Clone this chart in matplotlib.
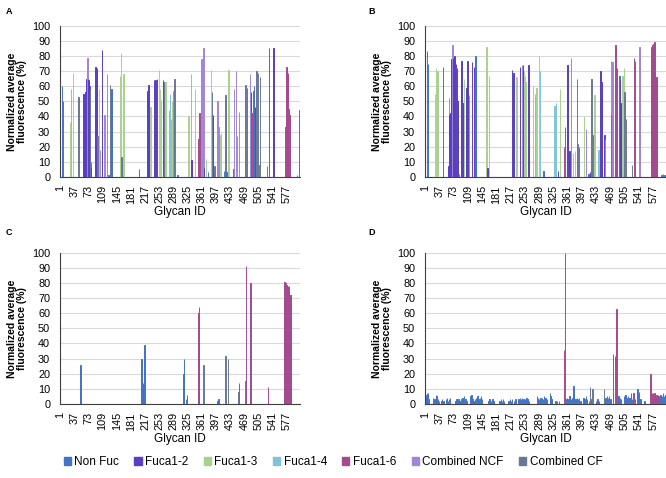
import matplotlib
matplotlib.use("Agg")
import matplotlib.pyplot as plt
from matplotlib.patches import Patch

plt.rcParams['font.family'] = ['Liberation Sans', 'DejaVu Sans']

N_GLYCANS = 609
CATEGORIES = ["Non Fuc", "Fuca1-2", "Fuca1-3", "Fuca1-4", "Fuca1-6", "Combined NCF", "Combined CF"]
CAT_CODES = ["N", "2", "3", "4", "6", "X", "C"]
COLORS = ["#4472C4", "#5A3FC0", "#A9D18E", "#7FC4D6", "#A34B8E", "#9F86DA", "#6A7896"]
TICK_LABELS = ["1", "37", "73", "109", "145", "181", "217", "253", "289", "325",
               "361", "397", "433", "469", "505", "541", "577"]

# ---------------- Panel A ----------------
A_IDS = [6, 9, 26, 29, 33, 48, 60, 62, 64, 65, 66, 67, 68, 69, 70, 71, 72, 73, 74, 75, 76, 77, 79, 80,
         91, 94, 95, 96, 99, 103, 108, 114, 120, 124, 128, 131, 153, 155, 157, 162, 201,
         223, 225, 231, 240, 242, 243, 247, 252, 255, 257, 263, 266, 269, 277, 280, 283, 285, 289, 291, 299,
         327, 333, 335, 344, 352, 355, 360, 362, 363, 365, 367, 372, 376, 384, 386, 390, 393,
         401, 403, 408, 410, 417, 421, 424, 427, 429, 441, 443, 448, 451, 456, 472, 475,
         483, 486, 487, 492, 494, 496, 500, 503, 505, 508, 526, 531, 532, 543,
         573, 574, 575, 576, 577, 578, 579, 580, 581, 582, 583, 584, 585, 602, 609]
A_VALUES = [60, 50, 36, 58, 69, 53, 55, 25, 50, 56, 58, 60, 65, 73, 70, 79, 65, 64, 63, 62, 60, 58, 10, 6,
            73, 72, 71, 27, 58, 18, 84, 41, 68, 1, 61, 58, 67, 82, 13, 68, 5,
            57, 61, 46, 64, 62, 64, 65, 71, 58, 51, 64, 63, 63, 44, 55, 38, 50, 57, 65, 1,
            40, 68, 11, 58, 25, 42, 78, 11, 27, 85, 6, 12, 3, 71, 56, 41, 7,
            50, 33, 28, 29, 4, 54, 3, 43, 71, 5, 58, 70, 27, 43, 61, 59,
            68, 56, 42, 57, 60, 46, 70, 69, 8, 66, 7, 77, 85, 85,
            33, 70, 71, 73, 72, 64, 68, 69, 45, 44, 43, 41, 40, 1, 44]
A_CATS = ["N", "N", "3", "4", "3", "C", "2", "2", "2", "2", "2", "2", "2", "2", "X", "X", "2", "2", "2", "2", "2", "C", "C", "2",
          "2", "2", "2", "C", "3", "X", "2", "X", "X", "N", "C", "N", "3", "3", "C", "3", "N",
          "2", "2", "3", "2", "4", "2", "2", "3", "3", "3", "2", "C", "3", "4", "4", "4", "3", "X", "C", "N",
          "3", "4", "2", "3", "6", "6", "X", "2", "X", "X", "2", "3", "N", "3", "C", "2", "C",
          "X", "X", "3", "3", "N", "C", "N", "C", "3", "N", "X", "X", "X", "X", "C", "C",
          "X", "2", "6", "N", "N", "2", "C", "C", "C", "C", "C", "6", "6", "2",
          "6", "6", "6", "6", "6", "6", "6", "6", "6", "6", "6", "6", "6", "N", "N"]

# ---------------- Panel B ----------------
B_IDS = [6, 8, 26, 29, 32, 34, 46, 60, 62, 63, 65, 66, 68, 70, 71, 73, 75, 76, 79, 82, 83, 86,
         91, 93, 95, 100, 104, 106, 108, 112, 120, 124, 128, 130, 155, 156, 159, 163,
         221, 224, 232, 241, 245, 248, 251, 253, 255, 262, 274, 278, 280, 282, 289, 291, 300,
         328, 331, 336, 342, 352, 354, 361, 364, 366, 370, 375, 379, 384, 386, 389,
         402, 408, 414, 417, 421, 426, 429, 439, 444, 447, 448, 454, 456, 471, 472, 474,
         482, 485, 486, 492, 494, 497, 500, 503, 505, 508, 524, 528, 531, 543,
         571, 572, 573, 574, 575, 576, 577, 578, 579, 580, 581, 582, 583, 584, 585, 586, 587,
         598, 602, 606, 609]
B_VALUES = [83, 75, 55, 72, 70, 69, 73, 7, 52, 41, 42, 52, 78, 87, 79, 77, 80, 77, 75, 72, 50, 2,
            65, 77, 49, 65, 31, 59, 77, 54, 76, 73, 80, 68, 65, 86, 6, 67,
            71, 69, 66, 73, 74, 74, 70, 67, 63, 74, 60, 55, 53, 59, 80, 70, 4,
            47, 49, 4, 58, 20, 33, 74, 16, 17, 79, 16, 17, 65, 22, 20,
            40, 32, 2, 3, 65, 28, 54, 18, 70, 63, 5, 28, 25, 77, 41, 76,
            87, 16, 72, 67, 64, 49, 67, 72, 56, 38, 8, 79, 77, 86,
            44, 85, 86, 86, 87, 87, 88, 88, 89, 89, 70, 64, 60, 57, 57, 66, 66,
            1, 2, 1, 77]
B_CATS = ["N", "N", "3", "3", "3", "3", "N", "2", "X", "2", "2", "2", "2", "X", "2", "2", "2", "2", "2", "2", "2", "N",
          "2", "2", "2", "3", "2", "2", "2", "X", "2", "2", "N", "N", "3", "3", "2", "3",
          "2", "2", "3", "2", "X", "2", "3", "3", "3", "2", "3", "4", "4", "3", "3", "4", "N",
          "4", "4", "2", "3", "6", "6", "2", "2", "2", "X", "3", "3", "C", "C", "C",
          "3", "X", "N", "2", "C", "C", "3", "4", "2", "2", "2", "2", "X", "X", "C", "X",
          "6", "6", "6", "N", "2", "2", "3", "3", "C", "C", "C", "6", "6", "X",
          "6", "6", "6", "6", "6", "6", "6", "6", "6", "6", "6", "6", "6", "6", "6", "6", "6",
          "N", "N", "N", "4"]

# ---------------- Panel C ----------------
C_IDS = [51, 53, 208, 211, 212, 215, 314, 315, 321, 323, 352, 354, 365, 399, 401, 403,
         421, 427, 454, 456, 472, 473, 483, 485, 529,
         569, 570, 571, 572, 573, 574, 575, 576, 577, 578, 579, 580, 581, 582, 583, 584, 585, 586, 587, 588]
C_VALUES = [5, 26, 30, 12, 14, 39, 20, 30, 3, 6, 60, 64, 26, 2, 2, 3,
            32, 30, 8, 14, 15, 91, 77, 80, 11,
            62, 70, 81, 80, 80, 77, 78, 79, 78, 77, 77, 78, 76, 78, 72, 72, 72, 72, 72, 72]
C_CATS = ["N", "N", "N", "N", "N", "N", "N", "N", "N", "N", "6", "6", "C", "C", "N", "N",
          "C", "C", "C", "N", "C", "6", "6", "6", "6",
          "6", "6", "6", "6", "6", "6", "6", "6", "6", "6", "6", "6", "6", "6", "6", "6", "6", "6", "6", "6"]

# ---------------- Panel D ----------------
D_IDS = [3, 4, 5, 6, 7, 8, 9, 10, 11, 21, 23, 25, 28, 30, 31, 33, 36, 42, 44, 47, 54, 56, 59, 62, 64,
         76, 78, 80, 82, 85, 88, 93, 95, 97, 100, 103, 106, 116, 118, 121, 123,
         127, 130, 133, 136, 139, 142, 144, 161, 164, 168, 171, 174, 189, 192, 195, 198, 201,
         212, 215, 218, 221, 225, 229, 237, 240, 243, 246, 250, 254, 257, 260, 263,
         284, 286, 289, 292, 297, 299, 302, 305, 309, 316, 318, 320, 322, 330, 334, 339,
         352, 354, 358, 360, 363, 366, 369, 373, 376, 381, 384, 387, 390, 394,
         401, 404, 407, 410, 415, 418, 421, 424, 432, 436, 440, 453, 457, 460, 463, 466, 469,
         475, 481, 484, 487, 490, 493, 496, 504, 507, 510, 513, 517, 521, 524, 527, 531,
         538, 541, 545, 555, 570, 572, 574, 576, 578, 580, 582, 584, 586, 588, 590,
         593, 596, 599, 602, 605, 608]
D_VALUES = [3, 5, 6, 7, 4, 6, 7, 3, 2, 4, 2, 3, 6, 5, 4, 3, 2, 2, 3, 2, 3, 4, 2, 3, 4,
            2, 2, 3, 2, 3, 2, 3, 4, 2, 5, 3, 2, 5, 6, 3, 2,
            3, 4, 5, 3, 4, 5, 3, 2, 3, 2, 3, 2, 2, 3, 2, 3, 2,
            2, 3, 2, 3, 2, 3, 3, 4, 3, 4, 3, 3, 4, 3, 2,
            5, 4, 3, 4, 4, 3, 5, 4, 3, 7, 5, 3, 2, 2, 2, 2,
            36, 100, 3, 4, 3, 5, 3, 4, 12, 3, 4, 3, 4, 2,
            4, 3, 5, 3, 2, 11, 3, 10, 2, 3, 2, 10, 4, 5, 4, 5, 3,
            33, 32, 63, 4, 5, 4, 3, 5, 6, 4, 5, 4, 7, 3, 7, 3,
            10, 8, 3, 2, 20, 16, 7, 7, 6, 7, 6, 5, 6, 5, 6,
            5, 6, 5, 7, 5, 6]
D_CATS = ["N", "N", "N", "N", "N", "N", "N", "N", "N", "N", "N", "N", "N", "N", "N", "N", "N", "N", "N", "N", "N", "N", "N", "N", "N",
          "N", "N", "N", "N", "N", "N", "N", "N", "N", "N", "N", "N", "N", "N", "N", "N",
          "N", "N", "N", "N", "N", "N", "N", "N", "N", "N", "N", "N", "N", "N", "N", "N", "N",
          "N", "N", "N", "N", "N", "N", "N", "N", "N", "N", "N", "N", "N", "N", "N",
          "N", "N", "N", "N", "N", "N", "N", "N", "N", "N", "N", "N", "N", "N", "N", "N",
          "6", "6", "N", "N", "N", "N", "N", "N", "N", "N", "N", "N", "N", "N",
          "N", "N", "N", "N", "N", "C", "N", "C", "N", "N", "N", "C", "N", "N", "N", "N", "N",
          "6", "6", "6", "N", "N", "N", "N", "N", "N", "N", "N", "N", "6", "N", "6", "N",
          "N", "N", "N", "N", "6", "6", "6", "6", "6", "6", "6", "6", "6", "6", "6",
          "N", "N", "N", "N", "N", "N"]

PANELS = [
    ("A", A_IDS, A_VALUES, A_CATS, [0.090, 0.630, 0.360, 0.316], (0.008, 0.985)),
    ("B", B_IDS, B_VALUES, B_CATS, [0.638, 0.630, 0.362, 0.316], (0.553, 0.985)),
    ("C", C_IDS, C_VALUES, C_CATS, [0.090, 0.155, 0.360, 0.316], (0.008, 0.522)),
    ("D", D_IDS, D_VALUES, D_CATS, [0.638, 0.155, 0.362, 0.316], (0.553, 0.522)),
]

fig = plt.figure(figsize=(6.66, 4.78), dpi=100)

for letter, ids, vals, cats, rect, lpos in PANELS:
    ax = fig.add_axes(rect)
    cols = [COLORS[CAT_CODES.index(c)] for c in cats]
    ax.bar(ids, vals, width=1.0, color=cols, edgecolor=cols, linewidth=0.7, zorder=3)
    ax.set_xlim(0.5, N_GLYCANS + 0.5)
    ax.set_ylim(0, 100)
    ax.set_yticks(range(0, 101, 10))
    ax.set_xticks([int(t) for t in TICK_LABELS])
    ax.set_xticklabels(TICK_LABELS, rotation=90, fontsize=7.8)
    ax.tick_params(axis='y', labelsize=7.8, length=0, pad=7)
    ax.tick_params(axis='x', length=0, pad=6)
    ax.yaxis.grid(True, color="#D9D9D9", linewidth=0.8, zorder=0)
    ax.set_axisbelow(True)
    for s in ("top", "right"):
        ax.spines[s].set_visible(False)
    ax.spines["left"].set_color("#404040")
    ax.spines["left"].set_linewidth(0.8)
    ax.spines["bottom"].set_color("#404040")
    ax.spines["bottom"].set_linewidth(0.8)
    ax.set_ylabel("Normalized average\nfluorescence (%)", fontsize=7.5, fontweight="bold",
                  labelpad=4, linespacing=1.0)
    ax.set_xlabel("Glycan ID", fontsize=8.5, labelpad=2)
    fig.text(lpos[0], lpos[1], letter, fontsize=6.5, fontweight="bold", ha="left", va="top")

handles = [Patch(facecolor=c, edgecolor=c, label=l) for c, l in zip(COLORS, CATEGORIES)]
fig.legend(handles=handles, loc="center", bbox_to_anchor=(0.5, 0.033), ncol=7, frameon=False,
           fontsize=8.5, handlelength=0.6, handleheight=0.6, handletextpad=0.3, columnspacing=1.3)

fig.savefig("out.png", dpi=100)
